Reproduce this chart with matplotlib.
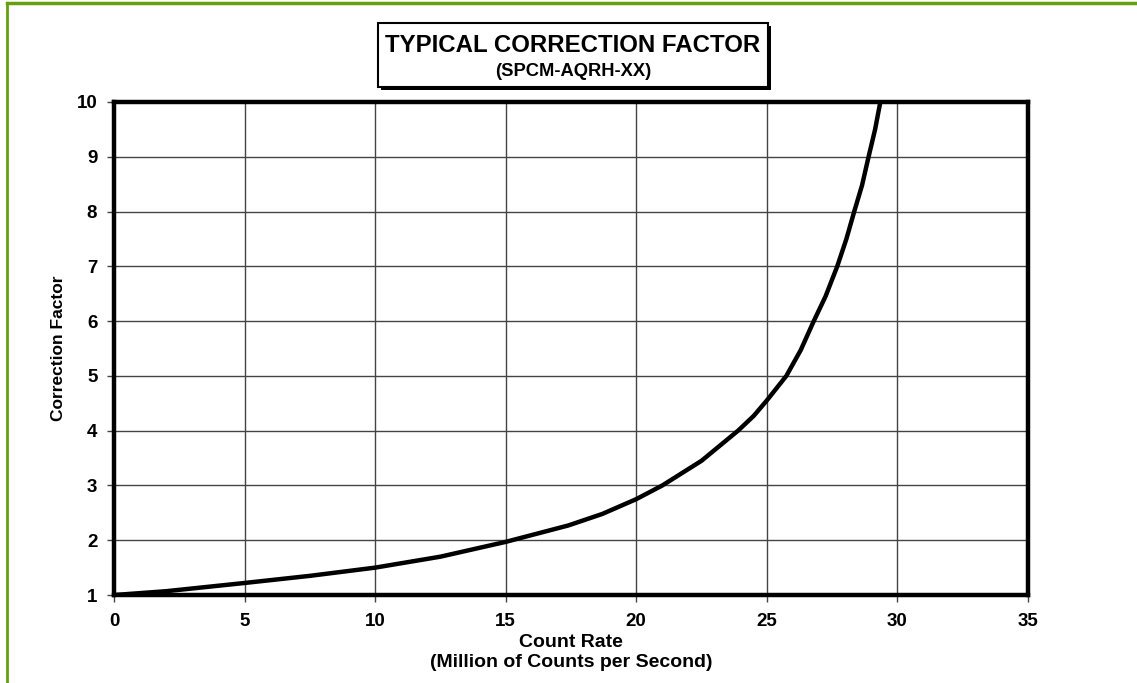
import numpy as np
import matplotlib
matplotlib.use('Agg')
import matplotlib.pyplot as plt
from matplotlib.patches import Rectangle
from matplotlib.lines import Line2D

plt.rcParams['font.family'] = ['Liberation Sans', 'DejaVu Sans']
plt.rcParams['font.weight'] = 'bold'

# Datos
tasa = [0, 2, 5, 7.5, 10, 12.5, 15, 17.4, 18.7, 20, 21, 22.5, 23.9, 24.5, 25, 25.75,
        26.3, 26.8, 27.25, 27.7, 28.05, 28.35, 28.65, 28.9, 29.15, 29.35]
factor = [1.0, 1.07, 1.22, 1.35, 1.5, 1.7, 1.97, 2.27, 2.48, 2.75, 3.0, 3.45, 4.0, 4.27, 4.55, 5.0,
          5.47, 6.0, 6.45, 7.0, 7.5, 8.0, 8.48, 9.0, 9.5, 10.0]

xticks = [0, 5, 10, 15, 20, 25, 30, 35]
yticks = [1, 2, 3, 4, 5, 6, 7, 8, 9, 10]

fig = plt.figure(figsize=(11.37, 6.83), dpi=100)
ax = fig.add_axes([0.1003, 0.1288, 0.8037, 0.7219])

ax.plot(tasa, factor, color='black', linewidth=3.2, solid_capstyle='round',
        solid_joinstyle='round', zorder=3)

ax.set_xlim(0, 35)
ax.set_ylim(1, 10)
ax.set_xticks(xticks)
ax.set_yticks(yticks)
ax.grid(True, color='#444444', linewidth=1.0)
ax.tick_params(direction='out', length=5, width=1, color='#444444', labelsize=13.5, pad=7)
ax.tick_params(axis='x', pad=8)
for lab in ax.get_xticklabels() + ax.get_yticklabels():
    lab.set_fontweight('bold')
for s in ax.spines.values():
    s.set_linewidth(3.2)
    s.set_color('black')

ax.set_xlabel('Count Rate\n(Million of Counts per Second)', fontsize=14, fontweight='bold',
              labelpad=3, linespacing=1.2)
ax.set_ylabel('Correction Factor', fontsize=12.5, fontweight='bold', labelpad=8)

# Caja del titulo con sombra
W, H = 1137, 683
bx, by, bw, bh = 378, 23, 390, 64
fig.patches.append(Rectangle(((bx + 3) / W, 1 - (by + bh + 3) / H), bw / W, bh / H,
                             transform=fig.transFigure, facecolor='black', edgecolor='none', zorder=1))
fig.patches.append(Rectangle((bx / W, 1 - (by + bh) / H), bw / W, bh / H,
                             transform=fig.transFigure, facecolor='white', edgecolor='black',
                             linewidth=1.5, zorder=2))
fig.text((bx + bw / 2) / W, 1 - 45 / H, 'TYPICAL CORRECTION FACTOR', ha='center', va='center',
         fontsize=17.3, fontweight='bold', zorder=3)
fig.text((bx + bw / 2) / W, 1 - 72 / H, '(SPCM-AQRH-XX)', ha='center', va='center',
         fontsize=13.2, fontweight='bold', zorder=3)

# Borde verde
verde = '#66a00f'
fig.lines.append(Line2D([7 / W, 1], [1 - 3 / H, 1 - 3 / H], transform=fig.transFigure,
                        color=verde, linewidth=2.5))
fig.lines.append(Line2D([7 / W, 7 / W], [0, 1 - 3 / H], transform=fig.transFigure,
                        color=verde, linewidth=2.0))

fig.savefig('out.png', dpi=100)
